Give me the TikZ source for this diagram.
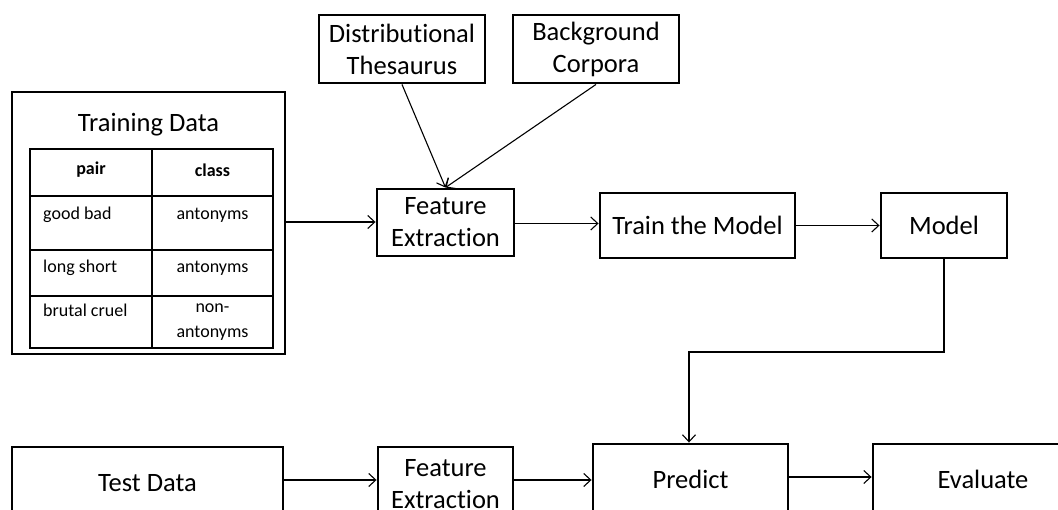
\documentclass[tikz,border=0pt]{standalone}
\usepackage{fontspec}
\setmainfont[Ligatures=NoCommon]{Carlito}
\usetikzlibrary{arrows.meta,calc}
\begin{document}
\begin{tikzpicture}[x=1pt,y=-1pt,
  box/.style={draw,line width=2.9pt,inner sep=0pt,align=center,
    font=\fontsize{26.5}{32}\selectfont},
  arr/.style={line width=1.1pt,-{Straight Barb[length=7pt,width=13pt,line width=1.1pt]}},
  cell/.style={inner sep=0pt,font=\fontsize{18}{25}\selectfont,align=center},
  tline/.style={line width=1.3pt}]
\path[use as bounding box,clip] (0,0) rectangle (1058,510);
\fill[white] (0,0) rectangle (1058,510);

% training data box with table
\node[box,minimum width=273pt,minimum height=262pt] (train) at (148.5,223) {};
\node[inner sep=0pt,font=\fontsize{26.5}{32}\selectfont] (ttitle) at (148.5,125) {Training Data};
\draw[tline] (30,149) rectangle (273,348);
\draw[tline] (152,149) -- (152,348);
\draw[tline] (30,196) -- (273,196);
\draw[tline] (30,250) -- (273,250);
\draw[tline] (30,296) -- (273,296);
\node[cell,font=\fontsize{18}{25}\selectfont\bfseries] (hpair) at (91,170) {pair};
\node[cell,font=\fontsize{18}{25}\selectfont\bfseries] (hclass) at (212.5,170) {class};
\node[cell,anchor=west] (p1) at (43,215) {good bad};
\node[cell] (c1) at (212.5,215) {antonyms};
\node[cell,anchor=west] (p2) at (43,268) {long short};
\node[cell] (c2) at (212.5,268) {antonyms};
\node[cell,anchor=west] (p3) at (43,310) {brutal cruel};
\node[cell] (c3) at (212.5,322.5) {non-\\antonyms};

% top row
\node[box,minimum width=166pt,minimum height=68pt] (dt) at (402,49) {Distributional\\Thesaurus};
\node[box,minimum width=166pt,minimum height=68pt] (bc) at (596,49) {Background\\Corpora};
\node[box,minimum width=137pt,minimum height=67pt] (fe1) at (445.5,222.5) {Feature\\Extraction};
\node[box,minimum width=195pt,minimum height=65pt] (tm) at (697.5,225.5) {Train the Model};
\node[box,minimum width=126pt,minimum height=65pt] (m) at (944,225.5) {Model};

% bottom row
\node[box,minimum width=271pt,minimum height=72pt] (td) at (147.5,483) {Test Data};
\node[box,minimum width=135pt,minimum height=74pt] (fe2) at (445.5,484) {Feature\\Extraction};
\node[box,minimum width=195pt,minimum height=70pt] (p) at (690.5,479) {Predict};
\node[box,minimum width=220pt,minimum height=70pt] (e) at (983,479) {Evaluate};

% connectors
\draw[arr] ([yshift=1pt]train.east) -- ([yshift=1pt]train.east -| fe1.west);
\draw[arr] (dt.south) -- (fe1.north);
\draw[arr] (bc.south) -- (fe1.north);
\draw[arr] ([yshift=-1pt]fe1.east) -- ([yshift=-1pt]fe1.east -| tm.west);
\draw[arr] (tm.east) -- (m.west);
\coordinate (jn) at (689,352);
\draw[arr] (m.south) |- (jn) -- (jn |- p.north);
\draw[arr] ([yshift=3pt]td.east) -- ([yshift=3pt]td.east -| fe2.west);
\draw[arr] ([yshift=4pt]fe2.east) -- ([yshift=4pt]fe2.east -| p.west);
\draw[arr] ([yshift=2pt]p.east) -- ([yshift=2pt]p.east -| e.west);
\end{tikzpicture}
\end{document}
